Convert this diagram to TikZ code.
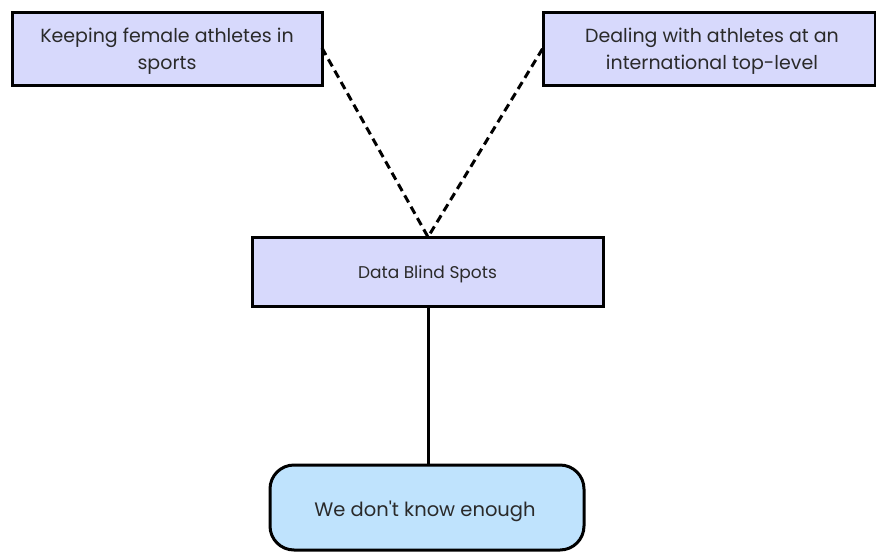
\documentclass[tikz,border=0pt]{standalone}
\usepackage{fontspec}
\setmainfont{Poppins}
\definecolor{lav}{HTML}{D7D9FC}
\definecolor{lblue}{HTML}{BFE3FD}
\definecolor{txt}{HTML}{2A2A2A}
\begin{document}
\begin{tikzpicture}[x=1pt,y=-1pt,
  box/.style={draw=black,line width=3pt,fill=lav},
  lbl/.style={text=txt,font=\fontsize{19}{27}\selectfont,align=center}]
\useasboundingbox (0,0) rectangle (876,552);
\filldraw[box] (12,12) rectangle (322,85);
\node[lbl] (a) at (167,51) {Keeping female athletes in\\sports};
\filldraw[box] (543,12) rectangle (875,85);
\node[lbl] (b) at (712,51) {Dealing with athletes at an\\international top-level};
\filldraw[box] (252,237) rectangle (603,306);
\node[lbl,font=\fontsize{17}{20}\selectfont] (c) at (427.5,274) {Data Blind Spots};
\filldraw[draw=black,line width=3pt,fill=lblue,rounded corners=24pt] (270,465) rectangle (584,550);
\node[lbl,font=\fontsize{19.5}{22}\selectfont] (d) at (425,511) {We don\textquotesingle t know enough};
\coordinate (a1) at (322,48);
\coordinate (b1) at (543,48);
\coordinate (c1) at (428,237);
\coordinate (c2) at (428,306);
\coordinate (d1) at (428,465);
\draw[line width=3pt,dash pattern=on 8pt off 5pt] (a1) -- (c1) -- (b1);
\draw[line width=3pt] (c2) -- (d1);
\end{tikzpicture}
\end{document}
